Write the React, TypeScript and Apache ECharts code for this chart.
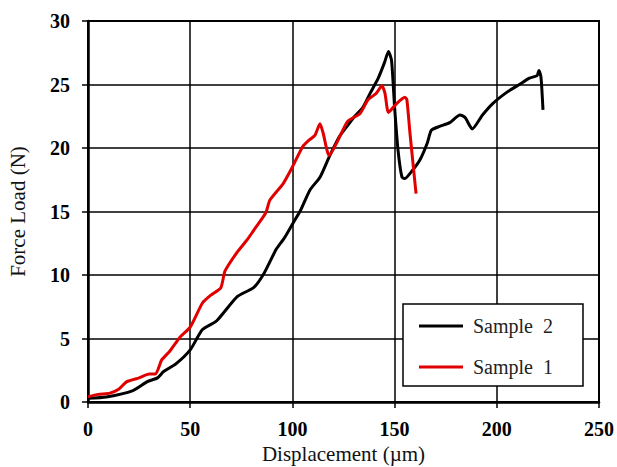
import React, { useEffect, useRef } from "react";
import * as echarts from "echarts";

const sample2X = [0, 9, 22, 29, 34, 37, 43, 50, 56, 63, 73, 81, 86, 92, 96, 100, 104, 108.6, 113.5, 118, 123, 126.7, 130, 134.5, 138, 142, 145, 147, 148.5, 150, 151.7, 153.6, 155, 159, 162.5, 166, 168, 172, 177, 182, 184.5, 188, 193, 198, 205, 211, 216, 219.7, 220.6, 221.6, 222.6];
const sample2Y = [0.3, 0.4, 0.9, 1.6, 1.9, 2.4, 3.0, 4.1, 5.7, 6.4, 8.3, 9.0, 10.1, 12.0, 12.9, 14.0, 15.1, 16.7, 17.7, 19.3, 20.9, 21.7, 22.4, 23.2, 24.3, 25.5, 26.7, 27.6, 26.9, 23.2, 19.8, 17.7, 17.6, 18.3, 19.1, 20.4, 21.4, 21.7, 22.0, 22.6, 22.4, 21.5, 22.6, 23.5, 24.4, 25.0, 25.5, 25.7, 26.1, 25.6, 23.0];

const sample1X = [0, 5, 10.7, 15, 19, 25, 30, 33, 36, 40, 45, 50, 56, 60, 65, 67, 73, 78, 81, 87, 89, 95.5, 100, 105, 108, 111, 113.5, 115, 118, 122, 127, 133, 137, 141, 143.8, 145.3, 147, 151, 155, 156, 157.5, 160.5];
const sample1Y = [0.4, 0.6, 0.7, 1.0, 1.6, 1.9, 2.2, 2.2, 3.3, 4.0, 5.1, 5.9, 7.8, 8.4, 9.0, 10.3, 11.8, 12.8, 13.5, 14.9, 15.9, 17.2, 18.5, 20.1, 20.6, 21.0, 21.9, 21.2, 19.4, 20.5, 22.1, 22.7, 23.8, 24.3, 24.9, 24.3, 22.8, 23.5, 24.0, 23.8, 21.2, 16.4];

const seriesNames = ["Sample  2", "Sample  1"];
const xTitle = "Displacement (µm)";
const yTitle = "Force Load (N)";

const FONT = "'Liberation Serif', 'DejaVu Serif', serif";

export default function App() {
  const ref = useRef<HTMLDivElement>(null);
  useEffect(() => {
    if (!ref.current) return;
    const chart = echarts.init(ref.current, undefined, { renderer: "svg" });
    const pairs = (xs: number[], ys: number[]) => xs.map((x, i) => [x, ys[i]]);
    chart.setOption({
      animation: false,
      backgroundColor: "#ffffff",
      grid: {
        left: 88,
        right: 18,
        top: 21,
        bottom: 65,
        outerBoundsMode: "none",
        containLabel: false,
        show: true,
        borderColor: "#000",
        borderWidth: 2,
        backgroundColor: "transparent",
      },
      legend: {
        left: 403,
        top: 304,
        orient: "vertical",
        data: seriesNames,
        backgroundColor: "#ffffff",
        borderColor: "#000",
        borderWidth: 1.5,
        borderRadius: 0,
        padding: [12, 30, 9, 16],
        itemGap: 21,
        itemWidth: 44,
        itemHeight: 3,
        icon: "rect",
        textStyle: {
          fontFamily: FONT,
          fontSize: 20,
          color: "#222",
          padding: [0, 0, 0, 5],
        },
      },
      xAxis: {
        type: "value",
        min: 0,
        max: 250,
        interval: 50,
        name: xTitle,
        nameLocation: "middle",
        nameGap: 41,
        nameTextStyle: { fontFamily: FONT, fontSize: 21, color: "#111" },
        axisLine: { show: true, lineStyle: { color: "#000", width: 2.5 } },
        axisTick: { show: true, length: 6, lineStyle: { color: "#000", width: 1.5 } },
        axisLabel: { fontFamily: FONT, fontSize: 20, fontWeight: "bold", color: "#000", margin: 17 },
        splitLine: { show: true, lineStyle: { color: "#000", width: 1.5 } },
      },
      yAxis: {
        type: "value",
        min: 0,
        max: 30,
        interval: 5,
        name: yTitle,
        nameLocation: "middle",
        nameGap: 60,
        nameTextStyle: { fontFamily: FONT, fontSize: 21, color: "#111" },
        axisLine: { show: true, lineStyle: { color: "#000", width: 2.5 } },
        axisTick: { show: true, length: 6, lineStyle: { color: "#000", width: 1.5 } },
        axisLabel: { fontFamily: FONT, fontSize: 20, fontWeight: "bold", color: "#000", margin: 18 },
        splitLine: { show: true, lineStyle: { color: "#000", width: 1.5 } },
      },
      series: [
        {
          name: seriesNames[0],
          type: "line",
          data: pairs(sample2X, sample2Y),
          showSymbol: false,
          symbol: "none",
          smooth: 0.2,
          lineStyle: { color: "#000", width: 3 },
          itemStyle: { color: "#000" },
          z: 3,
        },
        {
          name: seriesNames[1],
          type: "line",
          data: pairs(sample1X, sample1Y),
          showSymbol: false,
          symbol: "none",
          smooth: 0.2,
          lineStyle: { color: "#e00000", width: 3 },
          itemStyle: { color: "#e00000" },
          z: 4,
        },
      ],
    });
    return () => chart.dispose();
  }, []);
  return <div ref={ref} style={{ width: 617, height: 467, position: "absolute", left: 0, top: 0 }} />;
}
